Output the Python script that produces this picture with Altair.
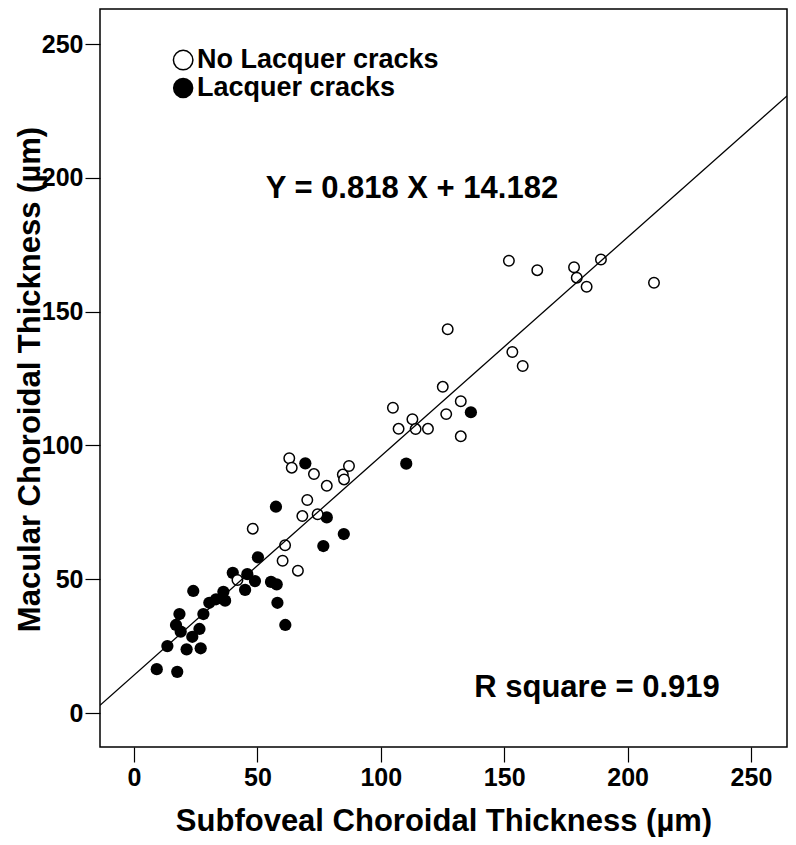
import altair as alt
import pandas as pd

# --- data ---
no_lc_x = [151.9, 163.4, 178.3, 179.4, 189.2, 183.4, 210.7, 153.3, 157.5, 127.1,
           125.1, 104.9, 132.4, 112.8, 126.5, 107.2, 114.1, 119.1, 132.4, 62.9,
           63.9, 72.9, 78.1, 84.6, 85.1, 87.1, 70.2, 68.2, 74.4, 48.1,
           61.2, 60.2, 66.4, 41.9]
no_lc_y = [169.0, 165.5, 166.6, 162.7, 169.5, 159.3, 160.8, 134.9, 129.7, 143.4,
           121.9, 114.1, 116.5, 109.8, 111.7, 106.2, 106.1, 106.2, 103.4, 95.2,
           91.7, 89.3, 84.9, 89.1, 87.3, 92.3, 79.6, 73.6, 74.3, 68.9,
           62.7, 56.9, 53.2, 49.7]
lc_x = [136.5, 110.3, 69.4, 57.5, 78.1, 85.0, 76.7, 50.2, 9.2, 17.5,
        13.5, 21.3, 27.0, 23.6, 18.9, 17.0, 26.5, 18.4, 28.1, 24.0,
        30.5, 33.2, 36.2, 36.9, 40.0, 45.9, 49.0, 45.0, 55.5, 57.8,
        58.1, 61.3]
lc_y = [112.4, 93.2, 93.3, 77.1, 73.1, 66.9, 62.4, 58.2, 16.4, 15.4,
        25.0, 23.8, 24.2, 28.5, 30.4, 32.9, 31.4, 37.0, 37.0, 45.6,
        41.2, 42.5, 45.3, 42.0, 52.4, 51.9, 49.3, 46.0, 49.0, 48.1,
        41.2, 32.9]
slope = 0.818
intercept = 14.182
r_square = 0.919
x_ticks = [0, 50, 100, 150, 200, 250]
y_ticks = [0, 50, 100, 150, 200, 250]
group_labels = ["No Lacquer cracks", "Lacquer cracks"]

# --- layout constants ---
X_DOMAIN = [-13.8, 264.6]
Y_DOMAIN = [-12.7, 263.1]
FONT = "Liberation Sans"
X_TITLE = "Subfoveal Choroidal Thickness (µm)"
Y_TITLE = "Macular Choroidal Thickness (µm)"

df_open = pd.DataFrame({"x": no_lc_x, "y": no_lc_y})
df_fill = pd.DataFrame({"x": lc_x, "y": lc_y})
df_line = pd.DataFrame({"x": X_DOMAIN})
df_line["y"] = slope * df_line["x"] + intercept

xs = alt.Scale(domain=X_DOMAIN, nice=False, zero=False)
ys = alt.Scale(domain=Y_DOMAIN, nice=False, zero=False)
x_axis = alt.Axis(values=x_ticks, title=X_TITLE, labelPadding=3, titlePadding=16,
                  titleLimit=2000)
y_axis = alt.Axis(values=y_ticks, title=Y_TITLE, labelPadding=2,
                  titleLimit=2000, titleX=-61, titleY=370, titleAngle=270,
                  titleAlign="center", titleBaseline="alphabetic")
x_enc = alt.X("x:Q", scale=xs, axis=x_axis)
y_enc = alt.Y("y:Q", scale=ys, axis=y_axis)

filled = alt.Chart(df_fill).mark_point(
    shape="circle", filled=True, color="black", size=150, opacity=1
).encode(x=x_enc, y=y_enc)

opened = alt.Chart(df_open).mark_point(
    shape="circle", filled=True, fill="white", stroke="black", strokeWidth=1.5,
    size=110, opacity=1, fillOpacity=1
).encode(x=x_enc, y=y_enc)

line = alt.Chart(df_line).mark_line(color="black", strokeWidth=1.3, clip=True).encode(
    x=x_enc, y=y_enc)

# equation and R square annotations
df_eq = pd.DataFrame({"x": [112.6], "y": [196.0],
                      "t": [f"Y = {slope} X + {intercept}"]})
df_r2 = pd.DataFrame({"x": [187.6], "y": [9.5], "t": [f"R square = {r_square}"]})
eq = alt.Chart(df_eq).mark_text(font=FONT, fontSize=31, fontWeight="bold",
                                color="black", align="center", baseline="middle").encode(
    x=x_enc, y=y_enc, text="t:N")
r2 = alt.Chart(df_r2).mark_text(font=FONT, fontSize=31, fontWeight="bold",
                                color="black", align="center", baseline="middle").encode(
    x=x_enc, y=y_enc, text="t:N")

# manual legend
df_leg = pd.DataFrame({"x": [19.9, 19.9], "y": [244.0, 233.6], "label": group_labels,
                       "tx": [25.5, 25.5]})
leg_open = alt.Chart(df_leg.iloc[[0]]).mark_point(
    shape="circle", filled=True, fill="white", stroke="black", strokeWidth=1.5,
    size=380, opacity=1).encode(x=x_enc, y=y_enc)
leg_fill = alt.Chart(df_leg.iloc[[1]]).mark_point(
    shape="circle", filled=True, color="black", size=420, opacity=1).encode(x=x_enc, y=y_enc)
leg_text = alt.Chart(df_leg).mark_text(
    font=FONT, fontSize=27, fontWeight="bold", color="black", align="left",
    baseline="middle").encode(
    x=alt.X("tx:Q", scale=xs, axis=x_axis),
    y=y_enc, text="label:N")

chart = alt.layer(filled, opened, line, eq, r2, leg_open, leg_fill, leg_text).properties(
    width=687, height=738,
    autosize=alt.AutoSizeParams(type="none"),
    padding={"left": 92, "top": 1, "right": 1, "bottom": 90},
).configure_view(stroke="black", strokeWidth=1.5).configure_axis(
    grid=False, domain=False,
    labelFont=FONT, labelFontSize=25, labelFontWeight="bold", labelColor="black",
    tickColor="black", tickSize=15, tickWidth=1.2,
    titleFont=FONT, titleFontSize=31, titleFontWeight="bold", titleColor="black",
)

chart.save("out.html", embed_options={"renderer": "svg", "actions": False})
